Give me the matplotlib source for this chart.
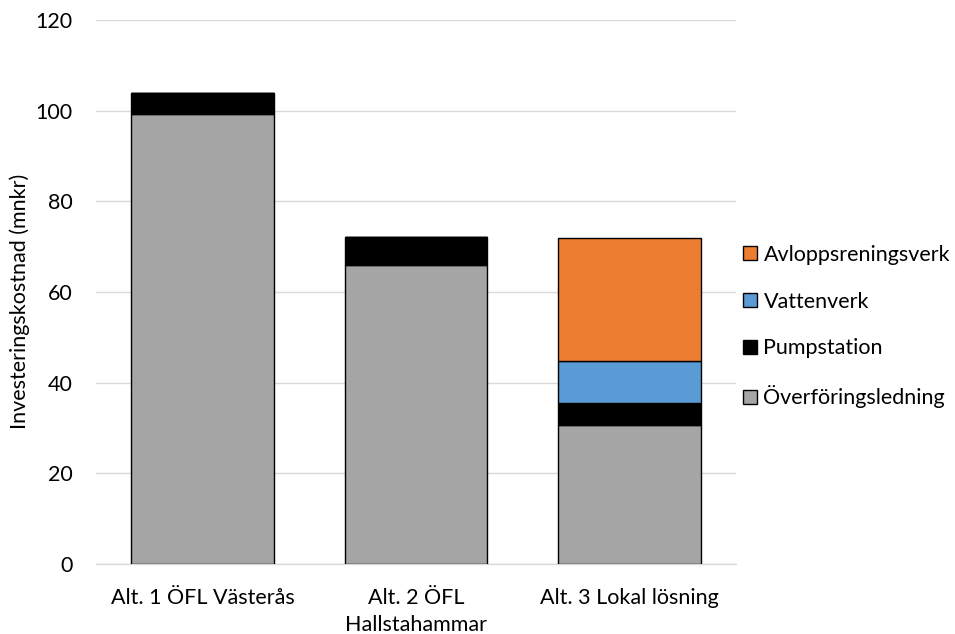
import matplotlib
matplotlib.use("Agg")
import matplotlib.pyplot as plt
import numpy as np

plt.rcParams['font.family'] = ['Lato', 'DejaVu Sans']

categories = ["Alt. 1 ÖFL Västerås", "Alt. 2 ÖFL\nHallstahammar", "Alt. 3 Lokal lösning"]
overforingsledning = [99.3, 65.9, 30.7]
pumpstation = [4.7, 6.2, 4.9]
vattenverk = [0.0, 0.0, 9.2]
avloppsreningsverk = [0.0, 0.0, 27.1]

series = [
    ("Överföringsledning", overforingsledning, "#A5A5A5"),
    ("Pumpstation", pumpstation, "#000000"),
    ("Vattenverk", vattenverk, "#5B9BD5"),
    ("Avloppsreningsverk", avloppsreningsverk, "#ED7D31"),
]

FS = 15.5
W, H = 955, 634

fig = plt.figure(figsize=(W / 100, H / 100), dpi=100)
ax = fig.add_axes([96 / W, 1 - 564 / H, 640 / W, 544 / H])

x = np.arange(len(categories))
bottom = np.zeros(len(categories))
handles = []
for name, vals, color in series:
    vals = np.array(vals)
    h = ax.bar(x, vals, width=0.67, bottom=bottom, color=color,
               edgecolor="#000000", linewidth=1.0, label=name, zorder=3)
    handles.append(h)
    bottom += vals

ax.set_xlim(-0.5, len(categories) - 0.5)
ax.set_ylim(0, 120)
ax.set_yticks(np.arange(0, 121, 20))
ax.yaxis.grid(True, color="#D9D9D9", linewidth=1.0, zorder=0)
for s in ["top", "right", "left"]:
    ax.spines[s].set_visible(False)
ax.spines["bottom"].set_color("#D9D9D9")
ax.spines["bottom"].set_linewidth(1.0)
ax.tick_params(axis="both", length=0, labelsize=FS, colors="#000000")
ax.tick_params(axis="x", pad=17)
ax.tick_params(axis="y", pad=17)
ax.set_xticks(x)
ax.set_xticklabels(categories, linespacing=1.45)

fig.text(20 / W, 1 - 301 / H, "Investeringskostnad (mnkr)", rotation=90,
         ha="center", va="center", fontsize=FS)

fig.legend(handles[::-1], [s[0] for s in series][::-1],
           loc="center left", bbox_to_anchor=(743 / W, 1 - 326.5 / H),
           frameon=False, fontsize=FS, handlelength=0.65,
           handleheight=0.65, handletextpad=0.3, labelspacing=1.25,
           borderpad=0, borderaxespad=0)

fig.savefig("out.png", dpi=100)
